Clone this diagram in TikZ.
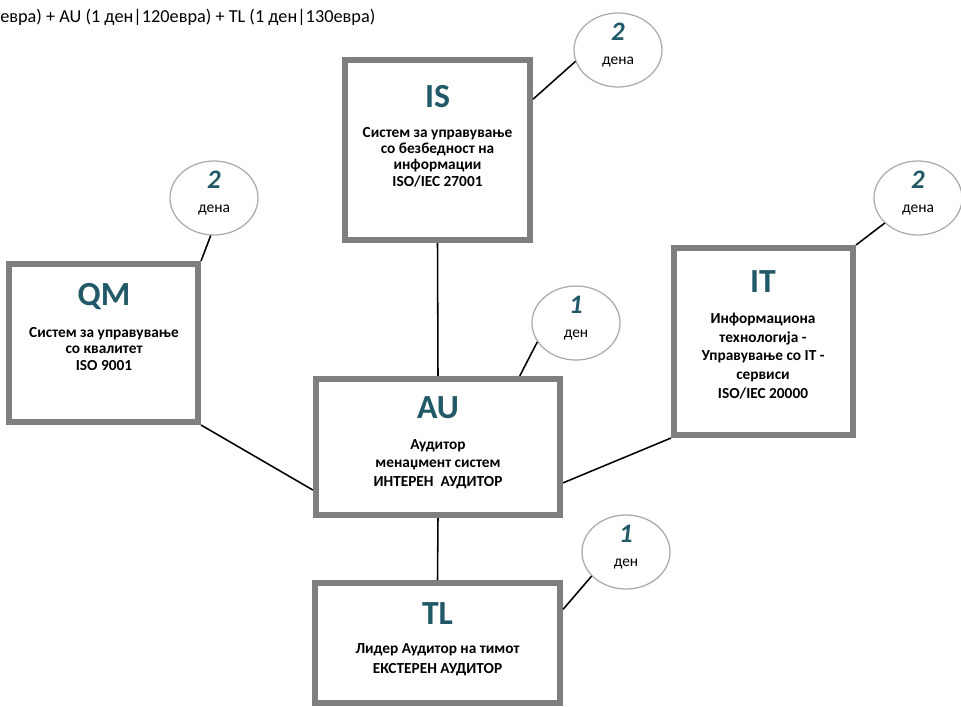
\documentclass[tikz,border=0pt]{standalone}
\usepackage{fontspec}
\setmainfont{Carlito}
\usepackage{xcolor}
\usetikzlibrary{shapes.geometric}

\definecolor{headteal}{HTML}{215968}
\definecolor{boxgray}{HTML}{7F7F7F}
\definecolor{ringgray}{HTML}{ABABAB}

\begin{document}
\begin{tikzpicture}[x=0.025cm, y=-0.025cm]
                \useasboundingbox (0,0) rectangle (961,706);

                \node[anchor=west, inner sep=0, font=\fontsize{13}{15}\selectfont] (price) at (0,17)
                    {евра) + AU (1 ден|120евра) + TL (1 ден|130евра)};

                % boxes
                \begin{scope}[every node/.style = {rectangle, draw=boxgray, line width=4.3pt, fill=white}]
                    \node[minimum width=4.625cm, minimum height=4.5cm]   (IS) at (437.5,150) {};
                    \node[minimum width=4.725cm, minimum height=3.95cm]  (QM) at (103.5,343) {};
                    \node[minimum width=6.1cm,   minimum height=3.4cm]   (AU) at (438,447)   {};
                    \node[minimum width=4.475cm, minimum height=4.675cm] (IT) at (763.5,341.5) {};
                    \node[minimum width=6.125cm, minimum height=3.0cm]   (TL) at (437.5,643) {};
                \end{scope}

                % headings
                \begin{scope}[every node/.style = {text=headteal, font=\fontsize{24}{27}\selectfont\bfseries}]
                    \node (IShead) at (437.5,97)  {IS};
                    \node (QMhead) at (104,297)   {QM};
                    \node (AUhead) at (438,408)   {AU};
                    \node (IThead) at (763,282)   {IT};
                    \node (TLhead) at (437.5,614) {TL};
                \end{scope}

                % box texts
                \begin{scope}[every node/.style = {align=center, inner sep=0, font=\fontsize{10.9}{11.6}\selectfont\bfseries}]
                    \node (IStext) at (437.5,157) {Систем за управување\\со безбедност на\\информации\\ISO/IEC 27001};
                    \node (QMtext) at (104,349)   {Систем за управување\\со квалитет\\ISO 9001};
                    \node[font=\fontsize{10.9}{13.3}\selectfont\bfseries] (AUtext) at (438,464)
                        {Аудитор\\менаџмент систем\\ИНТЕРЕН\ \ АУДИТОР};
                    \node[font=\fontsize{10.9}{13.3}\selectfont\bfseries] (ITtext) at (763,356)
                        {Информациона\\технологија -\\Управување со IT -\\сервиси\\ISO/IEC 20000};
                    \node[font=\fontsize{10.9}{14.2}\selectfont\bfseries] (TLtext) at (437.5,660)
                        {Лидер Аудитор на тимот\\ЕКСТЕРЕН АУДИТОР};
                \end{scope}

                % days
                \begin{scope}[every node/.style = {ellipse, draw=ringgray, line width=0.9pt, fill=white,
                                minimum width=2.2cm, minimum height=1.85cm, inner xsep=0, inner ysep=-8pt,
                                align=center, font=\fontsize{11}{12}\selectfont}]
                    \node (ISe) at (618,50)  {{\fontsize{19}{19}\selectfont\bfseries\itshape\color{headteal}2}\\[5pt]дена\\[-3pt]\mbox{}};
                    \node (QMe) at (214,198) {{\fontsize{19}{19}\selectfont\bfseries\itshape\color{headteal}2}\\[5pt]дена\\[-3pt]\mbox{}};
                    \node (AUe) at (576,323) {{\fontsize{19}{19}\selectfont\bfseries\itshape\color{headteal}1}\\[5pt]ден\\[-3pt]\mbox{}};
                    \node (ITe) at (918,198) {{\fontsize{19}{19}\selectfont\bfseries\itshape\color{headteal}2}\\[5pt]дена\\[-3pt]\mbox{}};
                    \node (TLe) at (626,552) {{\fontsize{19}{19}\selectfont\bfseries\itshape\color{headteal}1}\\[5pt]ден\\[-3pt]\mbox{}};
                \end{scope}

                \begin{scope}[every edge/.style={draw=black, line width=1.1pt}]
                    \path (ISe.195) edge (IS.28);
                    \path (QMe.265) edge (QM.north east);
                    \path (AUe.206) edge (AU.41);
                    \path (ITe.217) edge (IT.north east);
                    \path (TLe.215) edge (TL.15.5);

                    \path (IS.south) edge (AU.north);
                    \path (QM.south east) edge (AU.199.4);
                    \path (AU.344) edge (IT.south west);
                    \path (AU.south) edge (TL.north);
                \end{scope}
            \end{tikzpicture}
\end{document}
